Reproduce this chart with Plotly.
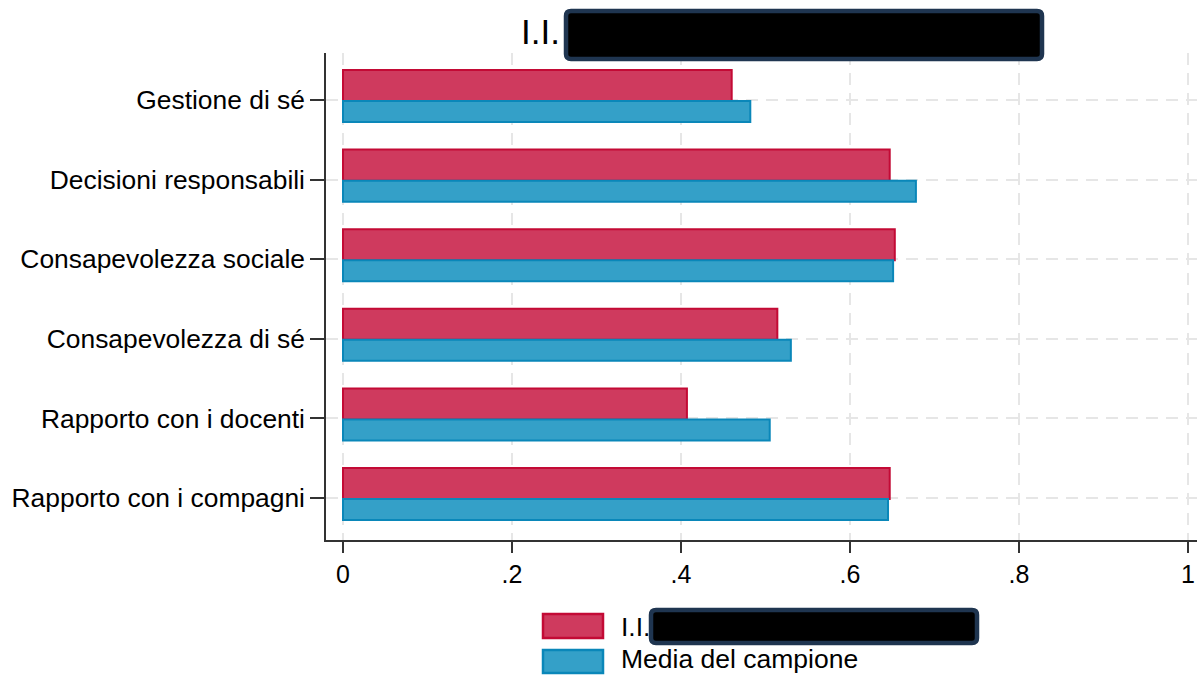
import plotly.graph_objects as go

categories = ["Gestione di sé", "Decisioni responsabili", "Consapevolezza sociale",
              "Consapevolezza di sé", "Rapporto con i docenti", "Rapporto con i compagni"]
school_values = [0.460, 0.647, 0.653, 0.514, 0.407, 0.647]
sample_values = [0.482, 0.678, 0.651, 0.530, 0.505, 0.645]
x_tick_vals = [0, 0.2, 0.4, 0.6, 0.8, 1.0]
x_tick_text = ["0", ".2", ".4", ".6", ".8", "1"]
series_names = ["I.I.", "Media del campione"]

positions = list(range(len(categories) - 1, -1, -1))

W, H = 1200, 675
L, R, T, B = 326, 3, 53, 135
PW, PH = W - L - R, H - T - B

def px(x):
    return (x - L) / PW

def py(y):
    return (H - B - y) / PH

def rrect(x0, y0, x1, y1, r):
    rx, ry = r / PW, r / PH
    X0, X1 = px(x0), px(x1)
    Y0, Y1 = py(y0), py(y1)  # Y0 top (larger), Y1 bottom
    return (f"M {X0+rx},{Y0} L {X1-rx},{Y0} Q {X1},{Y0} {X1},{Y0-ry} "
            f"L {X1},{Y1+ry} Q {X1},{Y1} {X1-rx},{Y1} L {X0+rx},{Y1} "
            f"Q {X0},{Y1} {X0},{Y1+ry} L {X0},{Y0-ry} Q {X0},{Y0} {X0+rx},{Y0} Z")

FONT = "Liberation Sans, Arial, sans-serif"
RED_FILL, RED_LINE = "#CF3A5E", "#C30A35"
BLUE_FILL, BLUE_LINE = "#34A0C8", "#0A87B9"

fig = go.Figure()
fig.add_trace(go.Bar(
    y=positions, x=school_values, orientation="h", name=series_names[0],
    width=0.39, offset=-0.013,
    marker=dict(color=RED_FILL, line=dict(color=RED_LINE, width=2)),
    showlegend=False, hoverinfo="x+name"))
fig.add_trace(go.Bar(
    y=positions, x=sample_values, orientation="h", name=series_names[1],
    width=0.264, offset=-0.277,
    marker=dict(color=BLUE_FILL, line=dict(color=BLUE_LINE, width=2)),
    showlegend=False, hoverinfo="x+name"))

x0v = (L - 343) / 845
x1v = x0v + PW / 845
y_bottom = -(540 - 498) / 79.6
y_top = y_bottom + PH / 79.6

fig.update_layout(
    width=W, height=H,
    margin=dict(l=L, r=R, t=T, b=B, pad=0),
    plot_bgcolor="white", paper_bgcolor="white",
    font=dict(family=FONT, color="black"),
    barmode="overlay",
    xaxis=dict(range=[x0v, x1v], tickvals=x_tick_vals, ticktext=x_tick_text,
               showline=True, linecolor="#333333", linewidth=1.5,
               ticks="outside", ticklen=11, tickwidth=1.5, tickcolor="#333333",
               tickfont=dict(size=25, family=FONT, color="black"),
               showgrid=True, gridcolor="#E6E6E6", gridwidth=2, griddash="12px,8px",
               zeroline=False, fixedrange=True),
    yaxis=dict(range=[y_bottom, y_top], tickvals=positions, ticktext=categories,
               showline=True, linecolor="#333333", linewidth=1.5,
               ticks="outside", ticklen=14, tickwidth=1.5, tickcolor="#333333",
               tickfont=dict(size=26.4, family=FONT, color="black"),
               showgrid=True, gridcolor="#E6E6E6", gridwidth=2, griddash="12px,8px",
               zeroline=False, fixedrange=True),
)

# Title
fig.add_annotation(text="I.I.", xref="paper", yref="paper", x=px(540), y=py(31),
                   xanchor="center", yanchor="middle", showarrow=False,
                   font=dict(size=35, family=FONT, color="black"))

# Legend (custom, to match large swatches)
fig.add_shape(type="rect", xref="paper", yref="paper",
              x0=px(543), x1=px(603), y0=py(614), y1=py(638),
              fillcolor=RED_FILL, line=dict(color=RED_LINE, width=2.5))
fig.add_shape(type="rect", xref="paper", yref="paper",
              x0=px(543), x1=px(603), y0=py(650), y1=py(673),
              fillcolor=BLUE_FILL, line=dict(color=BLUE_LINE, width=2.5))
fig.add_annotation(text=series_names[0], xref="paper", yref="paper", x=px(619), y=py(627),
                   xanchor="left", yanchor="middle", showarrow=False,
                   font=dict(size=26.5, family=FONT, color="black"))
fig.add_annotation(text=series_names[1], xref="paper", yref="paper", x=px(619), y=py(659),
                   xanchor="left", yanchor="middle", showarrow=False,
                   font=dict(size=26.5, family=FONT, color="black"))

# Redaction boxes
for (a, b_, c, d) in [(566, 11, 1042, 59), (651, 610, 977, 643)]:
    fig.add_shape(type="path", xref="paper", yref="paper", path=rrect(a, b_, c, d, 5),
                  fillcolor="black", line=dict(color="#1F3550", width=4.5), layer="above")

fig.write_html("out.html", config={"displayModeBar": False},
               post_script="document.body.style.margin='0';document.body.style.overflow='hidden';")
